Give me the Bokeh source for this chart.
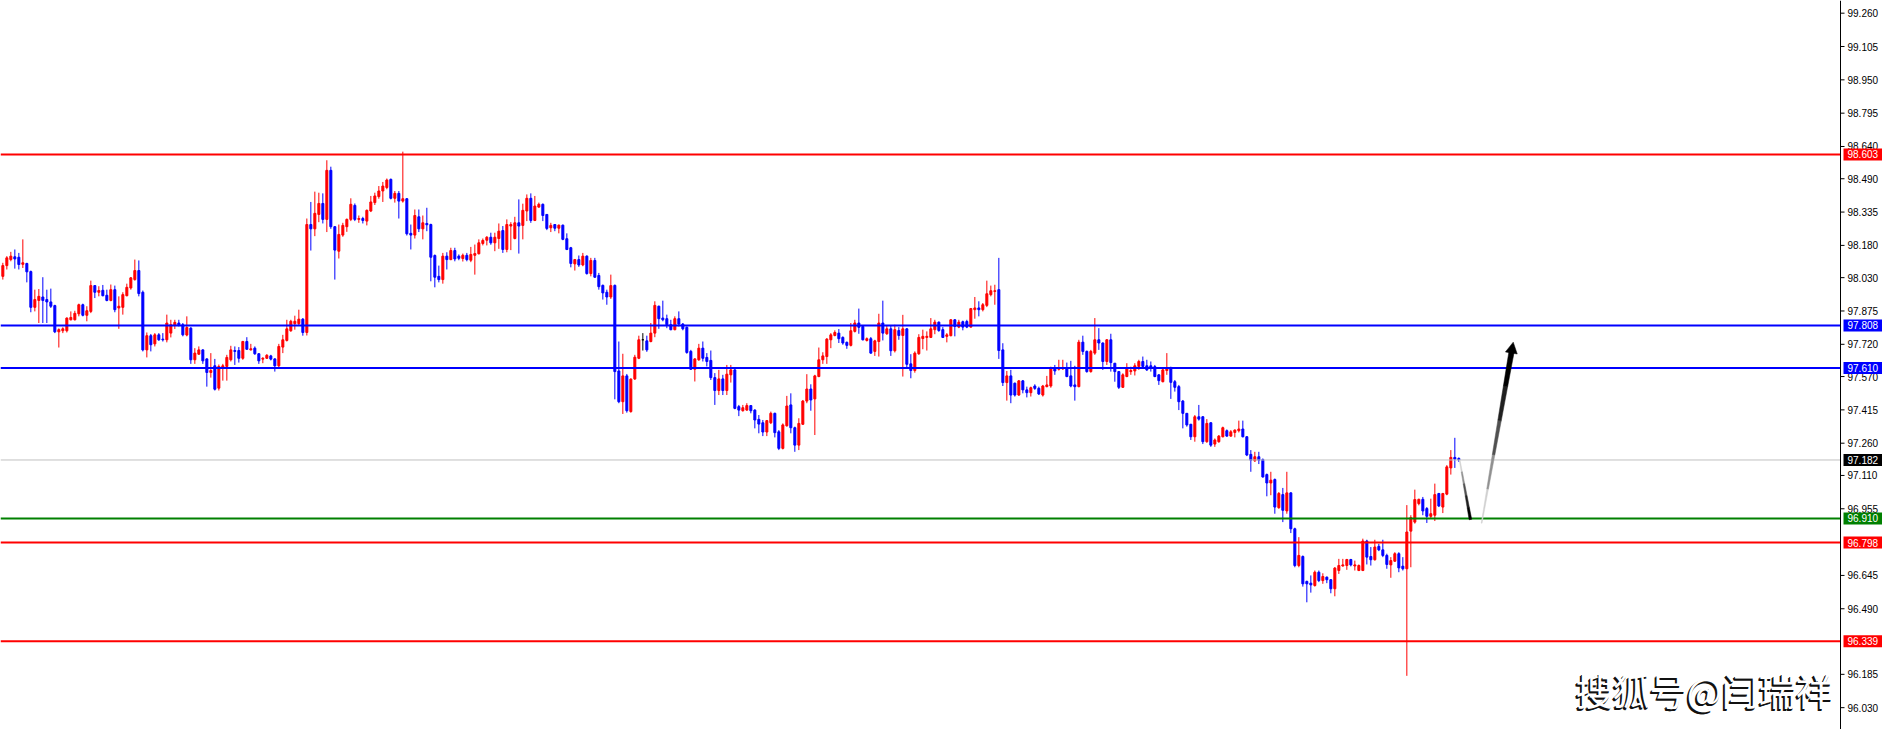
import math
from bokeh.plotting import figure
from bokeh.models import ColumnDataSource, Range1d, Label
from bokeh.core.properties import value
from bokeh.embed import file_html
from bokeh.resources import INLINE

# ---------------- data ----------------
open_ = [
    98.036, 98.086, 98.114, 98.127, 98.125, 98.092, 98.096, 98.058, 97.892, 97.924,
    97.940, 97.928, 97.917, 97.900, 97.778, 97.783, 97.783, 97.834, 97.834, 97.862,
    97.904, 97.855, 97.873, 97.993, 97.962, 97.971, 97.948, 97.924, 97.974, 97.889,
    97.892, 97.946, 97.982, 98.021, 98.063, 97.962, 97.694, 97.760, 97.722, 97.764,
    97.744, 97.741, 97.772, 97.809, 97.819, 97.811, 97.763, 97.795, 97.648, 97.674,
    97.694, 97.652, 97.589, 97.620, 97.516, 97.613, 97.617, 97.648, 97.691, 97.691,
    97.655, 97.733, 97.694, 97.702, 97.676, 97.651, 97.655, 97.666, 97.652, 97.620,
    97.707, 97.738, 97.783, 97.816, 97.816, 97.837, 97.775, 98.277, 98.257, 98.324,
    98.375, 98.301, 98.529, 98.267, 98.153, 98.228, 98.267, 98.301, 98.366, 98.301,
    98.305, 98.293, 98.340, 98.379, 98.407, 98.433, 98.449, 98.487, 98.399, 98.422,
    98.386, 98.397, 98.236, 98.228, 98.313, 98.257, 98.282, 98.277, 98.133, 98.036,
    98.021, 98.130, 98.114, 98.156, 98.130, 98.119, 98.134, 98.111, 98.134, 98.141,
    98.189, 98.204, 98.218, 98.192, 98.212, 98.249, 98.161, 98.270, 98.212, 98.285,
    98.273, 98.340, 98.399, 98.296, 98.358, 98.371, 98.324, 98.262, 98.277, 98.260,
    98.274, 98.211, 98.169, 98.094, 98.114, 98.089, 98.130, 98.049, 98.110, 98.040,
    97.994, 97.962, 97.940, 97.994, 97.596, 97.453, 97.573, 97.407, 97.559, 97.655,
    97.741, 97.736, 97.733, 97.772, 97.897, 97.842, 97.839, 97.811, 97.788, 97.839,
    97.814, 97.799, 97.687, 97.604, 97.648, 97.702, 97.659, 97.645, 97.565, 97.505,
    97.559, 97.505, 97.578, 97.601, 97.430, 97.411, 97.414, 97.435, 97.414, 97.371,
    97.355, 97.312, 97.355, 97.399, 97.313, 97.236, 97.341, 97.438, 97.332, 97.251,
    97.348, 97.456, 97.512, 97.466, 97.570, 97.648, 97.663, 97.741, 97.761, 97.772,
    97.752, 97.729, 97.715, 97.780, 97.819, 97.803, 97.738, 97.746, 97.687, 97.733,
    97.819, 97.769, 97.792, 97.690, 97.784, 97.761, 97.792, 97.629, 97.598, 97.676,
    97.747, 97.752, 97.752, 97.788, 97.823, 97.788, 97.757, 97.760, 97.834, 97.800,
    97.825, 97.826, 97.800, 97.881, 97.889, 97.881, 97.901, 97.951, 97.966, 97.974,
    97.694, 97.542, 97.573, 97.539, 97.484, 97.550, 97.508, 97.495, 97.526, 97.515,
    97.484, 97.523, 97.526, 97.612, 97.604, 97.606, 97.609, 97.573, 97.531, 97.523,
    97.730, 97.687, 97.593, 97.679, 97.741, 97.726, 97.640, 97.741, 97.632, 97.593,
    97.520, 97.570, 97.593, 97.596, 97.617, 97.640, 97.620, 97.620, 97.616, 97.578,
    97.546, 97.598, 97.609, 97.546, 97.523, 97.456, 97.399, 97.348, 97.290, 97.383,
    97.383, 97.267, 97.355, 97.256, 97.267, 97.290, 97.318, 97.293, 97.310, 97.318,
    97.326, 97.290, 97.208, 97.178, 97.197, 97.184, 97.114, 97.075, 97.091, 96.960,
    97.021, 96.945, 97.029, 96.862, 96.691, 96.733, 96.617, 96.609, 96.598, 96.660,
    96.621, 96.637, 96.625, 96.583, 96.668, 96.689, 96.691, 96.719, 96.689, 96.668,
    96.668, 96.805, 96.733, 96.718, 96.780, 96.764, 96.738, 96.694, 96.711, 96.746,
    96.688, 96.676, 96.851, 96.893, 96.979, 96.999, 96.956, 96.920, 96.925, 97.026,
    96.963, 97.023, 97.145, 97.194, 97.189,
]
high = [
    98.099, 98.130, 98.150, 98.161, 98.145, 98.208, 98.099, 98.063, 97.974, 97.977,
    98.032, 97.974, 97.979, 97.904, 97.794, 97.799, 97.845, 97.873, 97.876, 97.909,
    97.909, 97.897, 98.016, 97.994, 97.990, 97.996, 97.974, 97.998, 97.993, 97.943,
    97.962, 98.002, 98.033, 98.114, 98.110, 97.970, 97.775, 97.768, 97.772, 97.772,
    97.772, 97.858, 97.834, 97.834, 97.834, 97.819, 97.850, 97.800, 97.702, 97.710,
    97.697, 97.655, 97.679, 97.652, 97.626, 97.629, 97.671, 97.713, 97.710, 97.707,
    97.736, 97.753, 97.722, 97.710, 97.679, 97.660, 97.674, 97.671, 97.655, 97.722,
    97.764, 97.834, 97.834, 97.853, 97.881, 97.842, 98.305, 98.382, 98.430, 98.425,
    98.422, 98.576, 98.546, 98.270, 98.277, 98.285, 98.305, 98.399, 98.375, 98.319,
    98.313, 98.347, 98.410, 98.425, 98.456, 98.475, 98.491, 98.491, 98.433, 98.433,
    98.616, 98.400, 98.277, 98.347, 98.347, 98.319, 98.355, 98.281, 98.138, 98.086,
    98.145, 98.148, 98.169, 98.169, 98.138, 98.142, 98.145, 98.173, 98.184, 98.208,
    98.212, 98.223, 98.239, 98.239, 98.282, 98.270, 98.301, 98.288, 98.313, 98.394,
    98.374, 98.417, 98.422, 98.410, 98.379, 98.375, 98.324, 98.285, 98.277, 98.277,
    98.277, 98.236, 98.173, 98.117, 98.133, 98.145, 98.134, 98.122, 98.122, 98.052,
    97.998, 97.974, 98.044, 97.998, 97.733, 97.676, 97.582, 97.562, 97.671, 97.760,
    97.772, 97.760, 97.819, 97.920, 97.900, 97.923, 97.858, 97.834, 97.850, 97.873,
    97.819, 97.803, 97.694, 97.655, 97.722, 97.733, 97.679, 97.691, 97.586, 97.601,
    97.578, 97.624, 97.624, 97.604, 97.438, 97.438, 97.446, 97.435, 97.418, 97.391,
    97.368, 97.368, 97.407, 97.402, 97.321, 97.352, 97.480, 97.492, 97.337, 97.376,
    97.461, 97.581, 97.534, 97.578, 97.705, 97.683, 97.749, 97.772, 97.785, 97.791,
    97.757, 97.733, 97.819, 97.834, 97.886, 97.806, 97.752, 97.754, 97.741, 97.862,
    97.923, 97.806, 97.806, 97.811, 97.800, 97.857, 97.795, 97.674, 97.687, 97.767,
    97.788, 97.780, 97.842, 97.834, 97.826, 97.800, 97.772, 97.837, 97.837, 97.834,
    97.830, 97.834, 97.889, 97.940, 97.920, 97.912, 98.016, 97.993, 97.997, 98.122,
    97.725, 97.596, 97.601, 97.542, 97.554, 97.554, 97.523, 97.523, 97.534, 97.523,
    97.531, 97.573, 97.616, 97.624, 97.648, 97.648, 97.635, 97.643, 97.620, 97.741,
    97.760, 97.691, 97.694, 97.842, 97.795, 97.729, 97.744, 97.769, 97.632, 97.596,
    97.585, 97.632, 97.616, 97.632, 97.648, 97.663, 97.648, 97.640, 97.624, 97.581,
    97.609, 97.679, 97.616, 97.554, 97.531, 97.461, 97.399, 97.350, 97.391, 97.438,
    97.386, 97.372, 97.358, 97.282, 97.298, 97.337, 97.324, 97.321, 97.324, 97.365,
    97.365, 97.293, 97.228, 97.220, 97.220, 97.189, 97.119, 97.127, 97.096, 97.033,
    97.052, 97.127, 97.032, 96.867, 96.823, 96.738, 96.621, 96.645, 96.668, 96.668,
    96.655, 96.640, 96.628, 96.684, 96.722, 96.722, 96.722, 96.722, 96.714, 96.696,
    96.816, 96.811, 96.777, 96.811, 96.792, 96.811, 96.746, 96.730, 96.753, 96.753,
    96.730, 96.972, 96.925, 97.044, 97.002, 97.010, 96.963, 97.002, 97.072, 97.029,
    97.029, 97.158, 97.228, 97.285, 97.194,
]
low = [
    98.021, 98.068, 98.106, 98.072, 98.068, 98.075, 98.008, 97.869, 97.873, 97.819,
    97.819, 97.819, 97.889, 97.772, 97.705, 97.772, 97.775, 97.831, 97.831, 97.850,
    97.850, 97.827, 97.865, 97.935, 97.943, 97.943, 97.920, 97.920, 97.869, 97.792,
    97.858, 97.943, 97.974, 98.016, 97.943, 97.687, 97.659, 97.687, 97.710, 97.736,
    97.733, 97.729, 97.752, 97.791, 97.803, 97.757, 97.757, 97.629, 97.629, 97.671,
    97.629, 97.523, 97.565, 97.505, 97.505, 97.551, 97.551, 97.640, 97.624, 97.635,
    97.648, 97.694, 97.691, 97.671, 97.629, 97.632, 97.652, 97.645, 97.593, 97.609,
    97.679, 97.733, 97.778, 97.788, 97.809, 97.760, 97.761, 98.156, 98.223, 98.288,
    98.282, 98.242, 98.257, 98.021, 98.119, 98.220, 98.243, 98.293, 98.293, 98.285,
    98.282, 98.273, 98.335, 98.368, 98.397, 98.382, 98.441, 98.394, 98.379, 98.305,
    98.379, 98.226, 98.161, 98.212, 98.242, 98.208, 98.246, 98.013, 97.985, 98.008,
    98.002, 98.068, 98.111, 98.106, 98.111, 98.105, 98.106, 98.102, 98.044, 98.138,
    98.180, 98.180, 98.183, 98.153, 98.164, 98.145, 98.148, 98.158, 98.208, 98.142,
    98.208, 98.293, 98.285, 98.293, 98.355, 98.293, 98.251, 98.242, 98.246, 98.236,
    98.204, 98.158, 98.078, 98.063, 98.080, 98.083, 98.044, 98.036, 98.029, 97.974,
    97.928, 97.904, 97.931, 97.464, 97.446, 97.396, 97.402, 97.402, 97.554, 97.651,
    97.691, 97.685, 97.729, 97.753, 97.792, 97.827, 97.795, 97.785, 97.785, 97.803,
    97.785, 97.676, 97.601, 97.547, 97.643, 97.640, 97.617, 97.554, 97.438, 97.484,
    97.484, 97.484, 97.542, 97.418, 97.386, 97.407, 97.411, 97.399, 97.329, 97.306,
    97.293, 97.293, 97.349, 97.287, 97.228, 97.231, 97.337, 97.306, 97.220, 97.228,
    97.345, 97.446, 97.411, 97.298, 97.567, 97.629, 97.629, 97.702, 97.757, 97.726,
    97.718, 97.699, 97.710, 97.775, 97.769, 97.738, 97.733, 97.676, 97.666, 97.663,
    97.738, 97.764, 97.666, 97.682, 97.741, 97.570, 97.613, 97.562, 97.588, 97.671,
    97.697, 97.691, 97.749, 97.767, 97.778, 97.749, 97.729, 97.757, 97.757, 97.795,
    97.785, 97.795, 97.798, 97.839, 97.850, 97.873, 97.893, 97.943, 97.904, 97.652,
    97.526, 97.458, 97.446, 97.477, 97.480, 97.492, 97.473, 97.477, 97.508, 97.484,
    97.477, 97.520, 97.518, 97.578, 97.598, 97.601, 97.567, 97.520, 97.458, 97.520,
    97.671, 97.588, 97.588, 97.671, 97.694, 97.601, 97.624, 97.593, 97.546, 97.512,
    97.517, 97.567, 97.578, 97.575, 97.601, 97.609, 97.596, 97.593, 97.567, 97.531,
    97.543, 97.578, 97.466, 97.500, 97.414, 97.329, 97.337, 97.275, 97.267, 97.365,
    97.256, 97.262, 97.243, 97.243, 97.262, 97.287, 97.290, 97.290, 97.287, 97.310,
    97.287, 97.200, 97.127, 97.173, 97.163, 97.100, 97.013, 97.018, 96.932, 96.955,
    96.893, 96.932, 96.842, 96.683, 96.683, 96.593, 96.520, 96.565, 96.593, 96.614,
    96.606, 96.609, 96.562, 96.548, 96.652, 96.686, 96.671, 96.687, 96.668, 96.665,
    96.665, 96.696, 96.691, 96.714, 96.758, 96.730, 96.676, 96.634, 96.709, 96.660,
    96.668, 96.178, 96.683, 96.886, 96.971, 96.925, 96.889, 96.909, 96.898, 96.963,
    96.935, 97.018, 97.114, 97.145, 97.173,
]
close = [
    98.086, 98.122, 98.130, 98.117, 98.091, 98.099, 98.057, 97.892, 97.928, 97.943,
    97.924, 97.917, 97.897, 97.778, 97.788, 97.792, 97.842, 97.845, 97.864, 97.904,
    97.855, 97.876, 97.993, 97.962, 97.970, 97.946, 97.924, 97.974, 97.881, 97.897,
    97.951, 97.985, 98.029, 98.063, 97.956, 97.694, 97.760, 97.718, 97.764, 97.741,
    97.741, 97.819, 97.811, 97.822, 97.809, 97.764, 97.798, 97.648, 97.679, 97.694,
    97.643, 97.589, 97.598, 97.511, 97.617, 97.620, 97.659, 97.694, 97.687, 97.655,
    97.733, 97.697, 97.699, 97.676, 97.643, 97.655, 97.669, 97.651, 97.620, 97.710,
    97.741, 97.792, 97.827, 97.827, 97.837, 97.775, 98.277, 98.257, 98.329, 98.375,
    98.301, 98.529, 98.267, 98.158, 98.231, 98.273, 98.301, 98.371, 98.301, 98.305,
    98.296, 98.343, 98.382, 98.410, 98.433, 98.456, 98.484, 98.399, 98.422, 98.386,
    98.397, 98.234, 98.228, 98.319, 98.257, 98.285, 98.276, 98.125, 98.032, 98.021,
    98.130, 98.114, 98.156, 98.117, 98.120, 98.134, 98.114, 98.138, 98.142, 98.192,
    98.203, 98.218, 98.192, 98.218, 98.246, 98.161, 98.277, 98.277, 98.285, 98.270,
    98.343, 98.399, 98.296, 98.363, 98.371, 98.319, 98.259, 98.273, 98.260, 98.274,
    98.208, 98.161, 98.096, 98.114, 98.089, 98.130, 98.049, 98.110, 98.032, 97.988,
    97.959, 97.940, 97.993, 97.593, 97.453, 97.573, 97.411, 97.558, 97.660, 97.741,
    97.741, 97.694, 97.772, 97.901, 97.839, 97.834, 97.811, 97.788, 97.839, 97.814,
    97.792, 97.682, 97.604, 97.652, 97.702, 97.655, 97.640, 97.565, 97.505, 97.559,
    97.505, 97.581, 97.601, 97.422, 97.414, 97.425, 97.435, 97.411, 97.368, 97.349,
    97.312, 97.365, 97.399, 97.309, 97.236, 97.345, 97.433, 97.332, 97.251, 97.352,
    97.456, 97.512, 97.461, 97.573, 97.648, 97.666, 97.744, 97.764, 97.775, 97.746,
    97.726, 97.715, 97.783, 97.819, 97.799, 97.741, 97.746, 97.679, 97.736, 97.819,
    97.772, 97.792, 97.690, 97.788, 97.761, 97.792, 97.627, 97.598, 97.679, 97.752,
    97.757, 97.757, 97.792, 97.823, 97.784, 97.752, 97.764, 97.834, 97.803, 97.823,
    97.800, 97.800, 97.886, 97.889, 97.881, 97.904, 97.955, 97.969, 97.969, 97.691,
    97.542, 97.573, 97.484, 97.484, 97.550, 97.508, 97.495, 97.518, 97.515, 97.489,
    97.526, 97.531, 97.609, 97.596, 97.612, 97.609, 97.570, 97.526, 97.523, 97.730,
    97.687, 97.593, 97.687, 97.741, 97.726, 97.640, 97.741, 97.635, 97.593, 97.520,
    97.578, 97.609, 97.598, 97.620, 97.640, 97.617, 97.601, 97.613, 97.570, 97.551,
    97.601, 97.609, 97.543, 97.520, 97.453, 97.399, 97.345, 97.290, 97.383, 97.372,
    97.267, 97.352, 97.251, 97.275, 97.293, 97.332, 97.293, 97.313, 97.321, 97.326,
    97.290, 97.205, 97.181, 97.197, 97.181, 97.103, 97.075, 97.088, 96.963, 97.026,
    96.948, 97.029, 96.862, 96.691, 96.738, 96.606, 96.606, 96.601, 96.660, 96.621,
    96.640, 96.625, 96.583, 96.679, 96.691, 96.694, 96.719, 96.694, 96.694, 96.691,
    96.805, 96.730, 96.718, 96.777, 96.764, 96.738, 96.696, 96.714, 96.746, 96.680,
    96.676, 96.847, 96.914, 96.998, 96.999, 96.945, 96.920, 96.932, 97.021, 96.968,
    97.026, 97.150, 97.194, 97.186, 97.182,
]

level_prices = [98.603, 97.808, 97.610, 96.910, 96.798, 96.339]
level_colors = ["#FF0000", "#0000FF", "#0000FF", "#008000", "#FF0000", "#FF0000"]
current_price = 97.182
tick_values = [99.260, 99.105, 98.950, 98.795, 98.640, 98.490, 98.335, 98.180,
               98.030, 97.875, 97.720, 97.570, 97.415, 97.260, 97.110, 96.955,
               96.645, 96.490, 96.185, 96.030]
# projected path: down to support, then up
arrow_x = [365.2, 367.9, 370.7, 378.6]
arrow_y = [97.182, 96.905, 96.888, 97.730]
watermark = "搜狐号@闫瑞祥"

UP, DOWN, DOJI = "#FF0000", "#0000FF", "#000000"

# ---------------- figure geometry ----------------
W, H = 1882, 729
AXIS_PX = 1840            # price scale starts here (pixels from the left)
X0 = 0.4175
X1 = X0 + W / 4.0         # 4 px per bar
Y1 = 99.319
Y0 = Y1 - 0.004651 * H
sx = W / (X1 - X0)        # px per bar
sy = H / (Y1 - Y0)        # px per price unit
AXIS = X0 + AXIS_PX / sx

n = len(close)
xs = list(range(1, n + 1))
colors = [UP if c > o else (DOWN if c < o else DOJI) for o, c in zip(open_, close)]
src = ColumnDataSource(dict(
    x=xs, high=high, low=low,
    top=[max(o, c) for o, c in zip(open_, close)],
    bottom=[min(o, c) for o, c in zip(open_, close)],
    color=colors,
))

p = figure(width=W, height=H, x_range=Range1d(X0, X1), y_range=Range1d(Y0, Y1),
           output_backend="svg", toolbar_location=None,
           x_axis_location=None, y_axis_location=None,
           min_border_left=0, min_border_top=0, min_border_bottom=0,
           min_border_right=0)
p.outline_line_color = None
p.xgrid.visible = False
p.ygrid.visible = False
p.background_fill_color = "white"
p.border_fill_color = "white"

# candles
p.segment(x0="x", y0="low", x1="x", y1="high", line_color="color", line_width=1, source=src)
p.vbar(x="x", width=0.5, top="top", bottom="bottom", fill_color="color",
       line_color="color", line_width=1, source=src)

# level lines (up to the price scale)
p.segment(x0=[X0], y0=[current_price], x1=[AXIS], y1=[current_price],
          line_color="#C0C0C0", line_width=1)
p.segment(x0=[X0] * len(level_prices), y0=level_prices,
          x1=[AXIS] * len(level_prices), y1=level_prices,
          line_color=level_colors, line_width=2)

# arrows (tapered polygons), geometry computed in pixel space
def taper(xa, ya, xb, yb, wa, wb):
    dxp = (xb - xa) * sx
    dyp = (yb - ya) * sy
    L = math.hypot(dxp, dyp)
    nx, ny = -dyp / L, dxp / L
    ox, oy = nx / sx, ny / sy
    return ([xa + ox * wa, xb + ox * wb, xb - ox * wb, xa - ox * wa],
            [ya + oy * wa, yb + oy * wb, yb - oy * wb, ya - oy * wa])


pxs, pys, pcs = [], [], []
shades = ["#d0d0d0", "#909090", "#505050", "#202020", "#000000"]


def graded(xa, ya, xb, yb, wa, wb):
    m = len(shades)
    for k in range(m):
        t0, t1 = k / m, (k + 1) / m
        a = (xa + (xb - xa) * t0, ya + (yb - ya) * t0)
        b = (xa + (xb - xa) * t1, ya + (yb - ya) * t1)
        qx, qy = taper(a[0], a[1], b[0], b[1], wa + (wb - wa) * t0, wa + (wb - wa) * t1)
        pxs.append(qx)
        pys.append(qy)
        pcs.append(shades[k])


graded(arrow_x[0], arrow_y[0], arrow_x[1], arrow_y[1], 0.4, 1.3)

tx, ty = arrow_x[3], arrow_y[3]
bx0, by0 = arrow_x[2], arrow_y[2]
dxp = (tx - bx0) * sx
dyp = (ty - by0) * sy
L = math.hypot(dxp, dyp)
ux, uy = dxp / L, dyp / L
head_len, head_half = 11.0, 6.0
hbx = tx - ux * head_len / sx
hby = ty - uy * head_len / sy
graded(bx0, by0, hbx + ux * 1.0 / sx, hby + uy * 1.0 / sy, 0.4, 2.6)
nx, ny = -uy, ux
pxs.append([tx, hbx + nx * head_half / sx, hbx - nx * head_half / sx])
pys.append([ty, hby + ny * head_half / sy, hby - ny * head_half / sy])
pcs.append("#000000")
p.patches(xs=pxs, ys=pys, fill_color=pcs, line_color=pcs, line_width=0.5)

# ---------------- price scale on the right ----------------
nt = len(tick_values)
p.segment(x0=[AXIS], y0=[Y0], x1=[AXIS], y1=[Y1], line_color="black", line_width=1)
p.segment(x0=[AXIS] * nt, y0=tick_values, x1=[AXIS + 4 / sx] * nt, y1=tick_values,
          line_color="black", line_width=1)
p.text(x=[AXIS + 7 / sx] * nt, y=tick_values, text=[f"{v:.3f}" for v in tick_values],
       text_font=value("Liberation Sans"), text_font_size="10px", text_color="black",
       text_baseline="middle", text_align="left")

box_prices = level_prices + [current_price]
box_colors = level_colors + ["#000000"]
nb = len(box_prices)
p.quad(left=[AXIS + 3 / sx] * nb, right=[X1] * nb,
       top=[v + 6 / sy for v in box_prices], bottom=[v - 6 / sy for v in box_prices],
       fill_color=box_colors, line_color=None)
p.text(x=[AXIS + 7 / sx] * nb, y=box_prices, text=[f"{v:.3f}" for v in box_prices],
       text_font=value("Liberation Sans"), text_font_size="10px", text_color="white",
       text_baseline="middle", text_align="left")

# watermark: white text with a dark embossed shadow
wm_x, wm_y = 394.2, 96.112
for dx, dy in [(-1, -1), (-2, -2), (-1, -2)]:
    p.add_layout(Label(x=wm_x, y=wm_y, x_offset=dx, y_offset=dy, text=watermark,
                       text_color="#111111", text_font="Noto Sans CJK SC",
                       text_font_size="37px", text_baseline="middle", text_align="left"))
p.add_layout(Label(x=wm_x, y=wm_y, text=watermark,
                   text_color="white", text_font="Noto Sans CJK SC",
                   text_font_size="37px", text_baseline="middle", text_align="left"))

open("out.html", "w").write(file_html(p, INLINE))
